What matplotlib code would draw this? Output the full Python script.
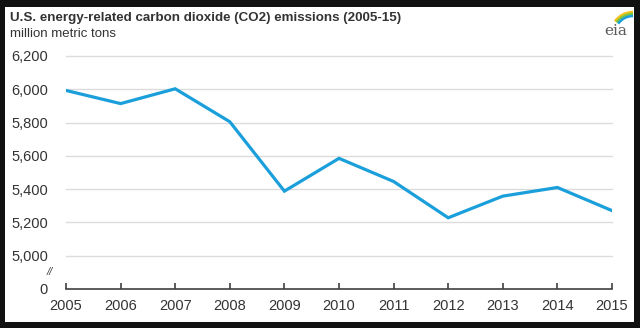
import numpy as np
import matplotlib
matplotlib.use("Agg")
import matplotlib.pyplot as plt
from matplotlib.patches import Rectangle, Arc

# US energy-related CO2 emissions, million metric tons
years = [2005, 2006, 2007, 2008, 2009, 2010, 2011, 2012, 2013, 2014, 2015]
emissions = [5993, 5914, 6003, 5805, 5388, 5585, 5446, 5228, 5358, 5410, 5271]
ytick_vals = [5000, 5200, 5400, 5600, 5800, 6000, 6200]
title = "U.S. energy-related carbon dioxide (CO2) emissions (2005-15)"
units = "million metric tons"

W, H = 640, 328
plt.rcParams['font.family'] = ['Liberation Sans', 'DejaVu Sans']

fig = plt.figure(figsize=(W / 100, H / 100), dpi=100, facecolor='#111111')

# white card on dark background
fig.patches.append(Rectangle((5 / W, 1 - 322 / H), (634 - 5) / W, (322 - 7) / H,
                             transform=fig.transFigure, facecolor='white',
                             edgecolor='none', zorder=-5))

# axis break: "0" sits one grid step below 5,000
y_zero = 4800
ax = fig.add_axes([66 / W, 1 - 289 / H, (612 - 66) / W, (289 - 56) / H])
ax.set_facecolor('none')
ax.plot(years, emissions, color='#1a9fdb', lw=2.3, solid_joinstyle='miter', zorder=3)

ax.set_xlim(years[0], years[-1])
ax.set_ylim(y_zero, ytick_vals[-1])
ax.set_xticks(years)
ax.set_xticklabels([str(y) for y in years])
ax.set_yticks([y_zero] + ytick_vals)
ax.set_yticklabels(['0'] + [f"{v:,}" for v in ytick_vals])

for v in ytick_vals:
    ax.axhline(v, color='#dcdcdc', lw=1, zorder=1, clip_on=False)

for s in ['top', 'right', 'left']:
    ax.spines[s].set_visible(False)
ax.spines['bottom'].set_color('#404040')
ax.spines['bottom'].set_linewidth(1.2)
ax.tick_params(axis='x', direction='in', length=4, width=1.2, color='#404040',
               labelsize=10.5, labelcolor='#333333', pad=7)
ax.tick_params(axis='y', length=0, labelsize=10.5, labelcolor='#333333', pad=13)

# break mark
ax.text(-13 / 546, 4905, '//', transform=ax.get_yaxis_transform(),
        ha='right', va='center', fontsize=8, style='italic', color='#444444')

fig.text(10 / W, 1 - 18 / H, title, fontsize=9.6, fontweight='bold',
         color='#333333', ha='left', va='center')
fig.text(10 / W, 1 - 34 / H, units, fontsize=9.5, color='#333333',
         ha='left', va='center')

# eia logo (axes units are pixels)
lax = fig.add_axes([596 / W, 1 - 44 / H, 38 / W, 36 / H])
lax.set_xlim(0, 38)
lax.set_ylim(0, 36)
lax.axis('off')
lax.text(20, 13, 'eia', fontsize=11, color='#5a5a5a', ha='center', va='center',
         family='DejaVu Serif')
for r, c in [(22, '#f2c318'), (20, '#7cc242'), (18, '#1a9fdb')]:
    lax.add_patch(Arc((37, 10), 2 * r, 2 * r, theta1=90, theta2=145,
                      color=c, lw=1.8))

fig.savefig('out.png', dpi=100, facecolor=fig.get_facecolor())
